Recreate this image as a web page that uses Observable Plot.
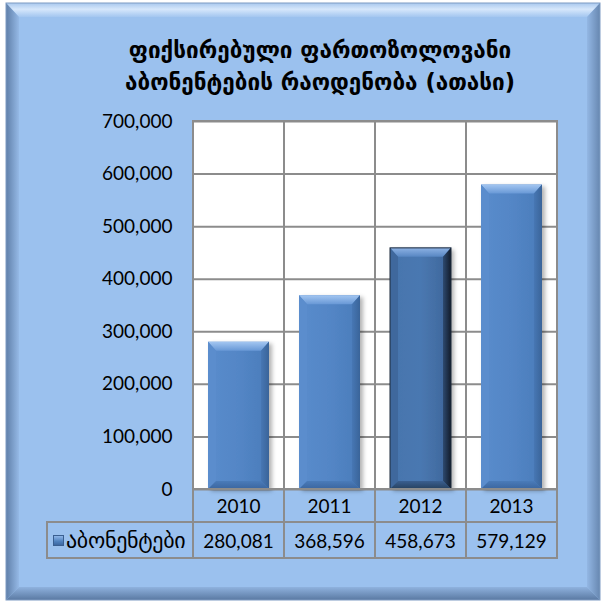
<!DOCTYPE html>
<html>
<head>
<meta charset="utf-8">
<script src="https://cdn.jsdelivr.net/npm/d3@7"></script>
<script src="https://cdn.jsdelivr.net/npm/@observablehq/plot@0.6"></script>
<style>
  html, body { margin: 0; padding: 0; background: #fff; }
  #wrap { position: relative; width: 604px; height: 607px; overflow: hidden; }
  #wrap > * { position: absolute; }
  .title { left: 20px; width: 600px; top: 34px; text-align: center; font: bold 22.5px "DejaVu Sans", sans-serif; line-height: 32px; color: #000; white-space: nowrap; }
  .cell { box-sizing: border-box; border: 2px solid #8c8c8c; display: flex; align-items: center; justify-content: center; font: 19px Lato, sans-serif; color: #000; }
  .lab { justify-content: flex-start; padding-left: 5px; font: 22px "DejaVu Sans", sans-serif; letter-spacing: -0.3px; white-space: nowrap; overflow: hidden; }
  .sw { display: inline-block; width: 11px; height: 11px; margin-right: 2px; background: linear-gradient(#8fb6e8, #4f81bd 60%, #3c67a0); border: 1px solid #3a5f90; box-sizing: border-box; }
</style>
</head>
<body>
<div id="wrap"></div>
<script>
// ---- data ----
const years = ["2010", "2011", "2012", "2013"];
const subscribers = [280081, 368596, 458673, 579129];
const yTicks = [0, 100000, 200000, 300000, 400000, 500000, 600000, 700000];
const titleLines = ["ფიქსირებული ფართოზოლოვანი", "აბონენტების რაოდენობა (ათასი)"];
const seriesLabel = "აბონენტები";
const highlightYear = "2012";

const data = years.map((year, i) => ({year, value: subscribers[i]}));
const wrap = document.getElementById("wrap");

// ---- frame background (decorative) ----
wrap.insertAdjacentHTML("beforeend", `
<svg width="604" height="607" style="left:0;top:0">
 <defs>
  <linearGradient id="fT" x1="0" y1="0" x2="0" y2="1"><stop offset="0" stop-color="#a9c8ee"/><stop offset="0.45" stop-color="#d6e7fb"/><stop offset="1" stop-color="#a3c6f0"/></linearGradient>
  <linearGradient id="fL" x1="0" y1="0" x2="1" y2="0"><stop offset="0" stop-color="#5f7fa9"/><stop offset="1" stop-color="#95b9e6"/></linearGradient>
  <linearGradient id="fR" x1="0" y1="0" x2="1" y2="0"><stop offset="0" stop-color="#93b7e4"/><stop offset="1" stop-color="#6787b0"/></linearGradient>
  <linearGradient id="fB" x1="0" y1="0" x2="0" y2="1"><stop offset="0" stop-color="#8fb2de"/><stop offset="1" stop-color="#5a79a2"/></linearGradient>
 </defs>
 <rect x="6" y="3" width="594" height="597" fill="#9bc1ee"/>
 <polygon points="6,3 600,3 587,17 19,17" fill="url(#fT)"/>
 <polygon points="6,3 19,17 19,587 6,600" fill="url(#fL)"/>
 <polygon points="600,3 600,600 587,587 587,17" fill="url(#fR)"/>
 <polygon points="6,600 600,600 587,587 19,587" fill="url(#fB)"/>
 <rect x="6" y="3" width="594" height="597" fill="none" stroke="#7f9cc3" stroke-width="1"/>
</svg>`);

// ---- title ----
const t = document.createElement("div");
t.className = "title";
t.innerHTML = titleLines.join("<br>");
wrap.appendChild(t);

// ---- chart ----
const chart = Plot.plot({
  width: 604, height: 607,
  marginLeft: 193, marginRight: 47, marginTop: 121, marginBottom: 118,
  x: {domain: years, padding: 0, axis: null},
  y: {domain: [0, 700000], axis: null},
  style: {background: "transparent", fontFamily: "Lato, sans-serif", fontSize: "19px", color: "#000", overflow: "visible"},
  marks: [
    Plot.cell(years, {x: d => d, fill: "white", stroke: "#8c8c8c", strokeWidth: 2, inset: 0}),
    Plot.gridY(yTicks, {stroke: "#8c8c8c", strokeOpacity: 1, strokeWidth: 2}),
    Plot.barY(data, {x: "year", y: "value", fill: "#4f81bd", insetLeft: 15, insetRight: 15}),
    Plot.axisY(yTicks, {tickSize: 0, tickPadding: 21, tickFormat: d3.format(","), fontSize: 19, label: null, fill: "#000"})
  ]
});
chart.style.left = "0px";
chart.style.top = "0px";
wrap.appendChild(chart);

// bar styling (bevel) using the positions Plot computed
const svg = d3.select(chart);
svg.insert("defs", ":first-child").html(`
  <filter id="sh" x="-20%" y="-5%" width="150%" height="115%"><feDropShadow dx="3" dy="2" stdDeviation="2" flood-color="#000" flood-opacity="0.3"/></filter>
  <linearGradient id="bm" x1="0" y1="0" x2="1" y2="0"><stop offset="0" stop-color="#5a8ccc"/><stop offset="0.5" stop-color="#5386c6"/><stop offset="1" stop-color="#4b7cba"/></linearGradient>
  <linearGradient id="bmD" x1="0" y1="0" x2="1" y2="0"><stop offset="0" stop-color="#4675ad"/><stop offset="0.5" stop-color="#4a78b1"/><stop offset="1" stop-color="#3d6599"/></linearGradient>
  <linearGradient id="bt" x1="0" y1="0" x2="0" y2="1"><stop offset="0" stop-color="#a3c6f1"/><stop offset="1" stop-color="#6898d6"/></linearGradient>
  <linearGradient id="btD" x1="0" y1="0" x2="0" y2="1"><stop offset="0" stop-color="#8db2e4"/><stop offset="1" stop-color="#5786c2"/></linearGradient>
  <linearGradient id="br" x1="0" y1="0" x2="1" y2="0"><stop offset="0" stop-color="#4777b4"/><stop offset="1" stop-color="#3a6499"/></linearGradient>
  <linearGradient id="brD" x1="0" y1="0" x2="1" y2="0"><stop offset="0" stop-color="#2d4a70"/><stop offset="1" stop-color="#121c2b"/></linearGradient>
  <linearGradient id="bb" x1="0" y1="0" x2="0" y2="1"><stop offset="0" stop-color="#4a7bb9"/><stop offset="1" stop-color="#3b669f"/></linearGradient>
  <linearGradient id="bbD" x1="0" y1="0" x2="0" y2="1"><stop offset="0" stop-color="#3a5f90"/><stop offset="1" stop-color="#26415f"/></linearGradient>
`);
const barG = svg.select('g[aria-label="bar"]');
const bevelG = svg.append("g");
barG.selectAll("rect").each(function(_, i) {
  const r = d3.select(this);
  const x = +r.attr("x"), y = +r.attr("y"), w = +r.attr("width"), h = +r.attr("height");
  const dark = years[i] === highlightYear;
  r.attr("fill", dark ? "url(#bmD)" : "url(#bm)").attr("filter", "url(#sh)");
  const b = 8, bt = 9;
  const g = bevelG.append("g");
  g.append("polygon").attr("points", `${x},${y} ${x+w},${y} ${x+w-b},${y+bt} ${x+b},${y+bt}`).attr("fill", dark ? "url(#btD)" : "url(#bt)");
  g.append("polygon").attr("points", `${x},${y} ${x+b},${y+bt} ${x+b},${y+h-b} ${x},${y+h}`).attr("fill", dark ? "#3f689d" : "#5b8dcd");
  g.append("polygon").attr("points", `${x+w},${y} ${x+w},${y+h} ${x+w-b},${y+h-b} ${x+w-b},${y+bt}`).attr("fill", dark ? "url(#brD)" : "url(#br)");
  g.append("polygon").attr("points", `${x},${y+h} ${x+w},${y+h} ${x+w-b},${y+h-b} ${x+b},${y+h-b}`).attr("fill", dark ? "url(#bbD)" : "url(#bb)");
  if (dark) g.append("rect").attr("x", x).attr("y", y).attr("width", w).attr("height", h).attr("fill", "none").attr("stroke", "#1c2a3d").attr("stroke-width", 1);
});

// ---- data table aligned with the x scale ----
const xs = chart.scale("x");
const bw = xs.bandwidth;
const plotBottom = 489, row1 = 33, row2 = 36, tableLeft = 46;
years.forEach((year, i) => {
  const x0 = xs.apply(year);
  const c1 = document.createElement("div");
  c1.className = "cell";
  Object.assign(c1.style, {left: (x0 - 1) + "px", top: (plotBottom - 1) + "px", width: (bw + 2) + "px", height: (row1 + 2) + "px"});
  c1.textContent = year;
  wrap.appendChild(c1);
  const c2 = document.createElement("div");
  c2.className = "cell";
  Object.assign(c2.style, {left: (x0 - 1) + "px", top: (plotBottom + row1 - 1) + "px", width: (bw + 2) + "px", height: (row2 + 2) + "px"});
  c2.textContent = d3.format(",")(subscribers[i]);
  wrap.appendChild(c2);
});
const x0 = xs.apply(years[0]);
const lab = document.createElement("div");
lab.className = "cell lab";
Object.assign(lab.style, {left: tableLeft + "px", top: (plotBottom + row1 - 1) + "px", width: (x0 - tableLeft + 1) + "px", height: (row2 + 2) + "px"});
lab.innerHTML = `<span class="sw"></span>${seriesLabel}`;
wrap.appendChild(lab);
</script>
</body>
</html>
